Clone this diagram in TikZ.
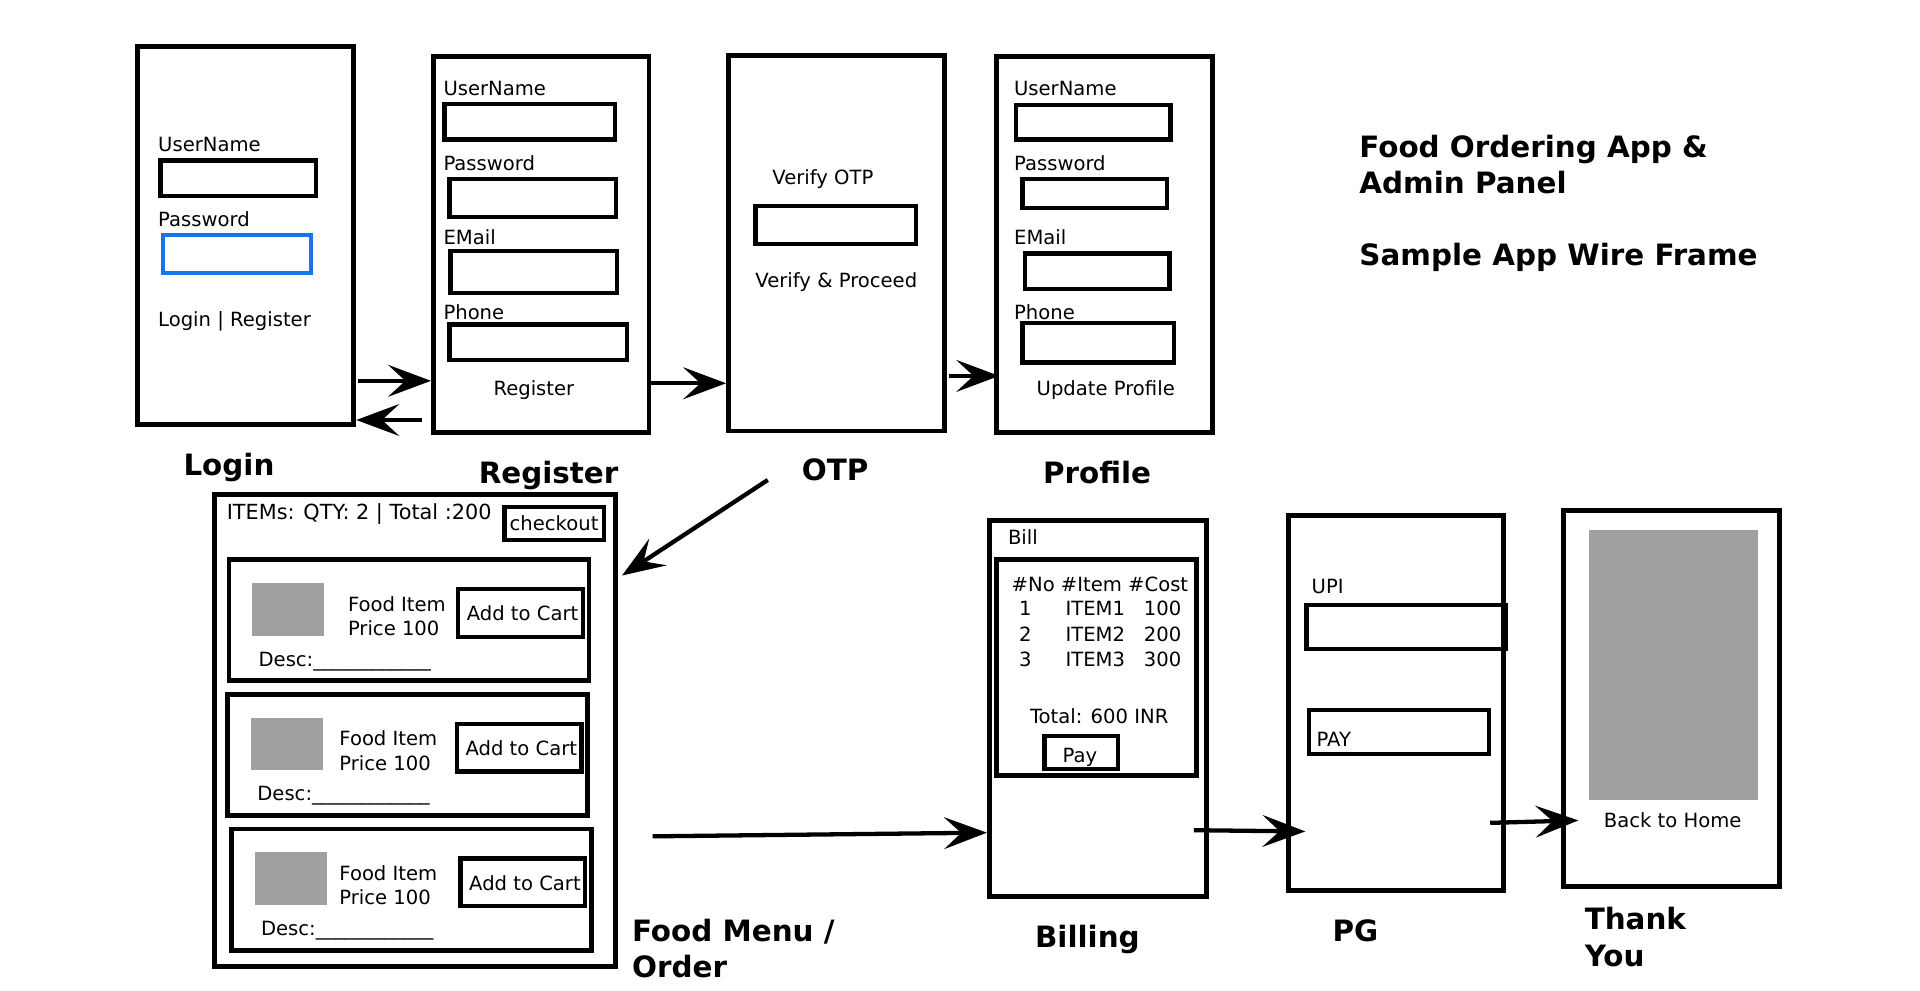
\documentclass[tikz,border=0pt]{standalone}
\usepackage{fontspec}
\setmainfont{DejaVu Sans}
\usetikzlibrary{arrows.meta,fit}

\begin{document}
\begin{tikzpicture}[x=1pt,y=-1pt,
  screen/.style={draw=linecolor,line width=4pt,inner sep=0pt},
  field/.style={draw=linecolor,line width=3.5pt,inner sep=0pt},
  photo/.style={fill=photocolor,inner sep=0pt},
  txt/.style={anchor=base west,inner sep=0pt,font=\fontsize{16pt}{19pt}\selectfont},
  ctxt/.style={txt,anchor=base},
  caption/.style={anchor=base,inner sep=0pt,font=\fontsize{24pt}{29pt}\selectfont\bfseries},
  flow/.style={draw=linecolor,line width=3.5pt,-{Stealth[length=35pt,width=26pt,inset=14pt]}}]
\definecolor{linecolor}{RGB}{0,0,0}
\definecolor{focuscolor}{RGB}{26,115,232}
\definecolor{photocolor}{RGB}{160,160,160}
\useasboundingbox (0,0) rectangle (1568,809);
% screens
\node[screen,fit={(112,38) (289,347)}] (login) {};
\node[screen,fit={(354,46) (530,353)}] (register) {};
\node[screen,fit={(595,45) (771,352)}] (otp) {};
\node[screen,fit={(814,46) (990,353)}] (profile) {};
\node[screen,fit={(175,404) (503,789)}] (menu) {};
\node[screen,fit={(808,425) (985,732)}] (billing) {};
\node[screen,fit={(1052,421) (1228,727)}] (pg) {};
\node[screen,fit={(1277,417) (1453,724)}] (thanks) {};
% login
\node[txt] (lgUser) at (129,124) {UserName};
\node[field,fit={(131,131) (258,160)}] (lgUserBox) {};
\node[txt] (lgPass) at (129,185) {Password};
\node[field,draw=focuscolor,fit={(133,192) (254,223)}] (lgPassBox) {};
\node[txt] (lgLinks) at (129,267) {Login | Register};
% register
\node[txt] (rgUser) at (362,78) {UserName};
\node[field,fit={(363,85) (502,114)}] (rgUserBox) {};
\node[txt] (rgPass) at (362,139) {Password};
\node[field,fit={(367,146) (503,177)}] (rgPassBox) {};
\node[txt] (rgMail) at (362,200) {EMail};
\node[field,fit={(368,205) (504,239)}] (rgMailBox) {};
\node[txt] (rgPhone) at (362,261) {Phone};
\node[field,fit={(367,265) (512,294)}] (rgPhoneBox) {};
\node[ctxt] (rgButton) at (436,323) {Register};
% otp
\node[ctxt] (otpTitle) at (672,151) {Verify OTP};
\node[field,fit={(617,168) (748,199)}] (otpBox) {};
\node[ctxt] (otpButton) at (683,235) {Verify \& Proceed};
% profile
\node[txt] (pfUser) at (828,78) {UserName};
\node[field,fit={(830,86) (956,114)}] (pfUserBox) {};
\node[txt] (pfPass) at (828,139) {Password};
\node[field,fit={(835,146) (953,170)}] (pfPassBox) {};
\node[txt] (pfMail) at (828,200) {EMail};
\node[field,fit={(837,207) (955,236)}] (pfMailBox) {};
\node[txt] (pfPhone) at (828,261) {Phone};
\node[field,fit={(835,264) (959,296)}] (pfPhoneBox) {};
\node[ctxt] (pfButton) at (903,323) {Update Profile};
% food menu
\node[txt,font=\fontsize{17pt}{20pt}\selectfont] (mnHead) at (185,424) {ITEMs: QTY: 2 | Total :200};
\node[field,fit={(412,414) (493,441)}] (checkout) {};
\node[txt,anchor=center] at (checkout) {checkout};
\foreach \t/\l/\tx [count=\i] in {457/187/284,567/186/277,677/189/277} {
  \node[screen,fit={(\l,\t) (\l+294,\t+99)}] (card\i) {};
  \node[photo,fit={(\l+19,\t+19) (\l+78,\t+62)}] (img\i) {};
  \node[field,fit={(\l+187,\t+24) (\l+289,\t+63)}] (cart\i) {};
  \node[txt,anchor=west] (cartText\i) at (\l+194,\t+44) {Add to Cart};
  \node[txt] (food\i) at (\tx,\t+42) {Food Item};
  \node[txt] (price\i) at (\tx,\t+62) {Price 100};
  \node[txt] (desc\i) at (\l+24,\t+87) {Desc:\_\_\_\_\_\_\_\_\_\_\_\_};
}
% billing
\node[txt] (blTitle) at (823,445) {Bill};
\node[screen,fit={(814,457) (977,633)}] (bill) {};
\node[txt] (blHead) at (826,483) {\#No \#Item \#Cost};
\foreach \n/\c [count=\i] in {1/100,2/200,3/300} {
  \node[txt] (blNo\i) at (832,482.5+20.5*\i) {\n};
  \node[txt] (blItem\i) at (870,482.5+20.5*\i) {ITEM\n};
  \node[txt] (blCost\i) at (934,482.5+20.5*\i) {\c};
}
\node[txt] (blTotal) at (841,591) {Total: 600 INR};
\node[field,fit={(853,601) (913,628)}] (payBox) {};
\node[ctxt] (payText) at (882,623) {Pay};
% pg
\node[txt] (pgUpi) at (1071,485) {UPI};
\node[field,fit={(1067,494) (1230,530)}] (pgUpiBox) {};
\node[field,fit={(1069,580) (1216,616)}] (pgPayBox) {};
\node[txt] (pgPay) at (1075,610) {PAY};
% thank you
\node[photo,fit={(1298,433) (1436,653)}] (banner) {};
\node[ctxt] (home) at (1366,676) {Back to Home};
% captions
\node[caption] (lgName) at (187,388) {Login};
\node[caption] (rgName) at (448,395) {Register};
\node[caption] (otpName) at (682,392) {OTP};
\node[caption] (pfName) at (896,395) {Profile};
\node[caption,anchor=base west] (mnName1) at (516,769) {Food Menu /};
\node[caption,anchor=base west] (mnName2) at (516,798) {Order};
\node[caption] (blName) at (888,774) {Billing};
\node[caption] (pgName) at (1107,769) {PG};
\node[caption,anchor=base west] (tyName1) at (1294,759) {Thank};
\node[caption,anchor=base west] (tyName2) at (1294,789) {You};
\node[caption,anchor=base west] (title1) at (1110,129) {Food Ordering App \&};
\node[caption,anchor=base west] (title2) at (1110,158) {Admin Panel};
\node[caption,anchor=base west] (title3) at (1110,217) {Sample App Wire Frame};
% flow
\coordinate (lgOut) at (292,311);
\coordinate (rgBack) at (345,343);
\coordinate (rgOut) at (532,313);
\coordinate (otpOut) at (775,307);
\coordinate (otpDown) at (627,392);
\coordinate (menuIn) at (508,470);
\coordinate (menuOut) at (533,683);
\coordinate (billIn) at (806,680);
\coordinate (billOut) at (975,678);
\coordinate (pgIn) at (1066,679);
\coordinate (pgOut) at (1217,672);
\coordinate (thanksIn) at (1289,670);
\draw[flow] (lgOut) -- (lgOut -| register.west);
\draw[flow] (rgBack) -- (rgBack -| login.east);
\draw[flow] (rgOut) -- (rgOut -| otp.west);
\draw[flow] (otpOut) -- ([xshift=4pt]otpOut -| profile.west);
\draw[flow] (otpDown) -- (menuIn);
\draw[flow] (menuOut) -- (billIn);
\draw[flow] (billOut) -- (pgIn);
\draw[flow] (pgOut) -- (thanksIn);
\end{tikzpicture}
\end{document}
